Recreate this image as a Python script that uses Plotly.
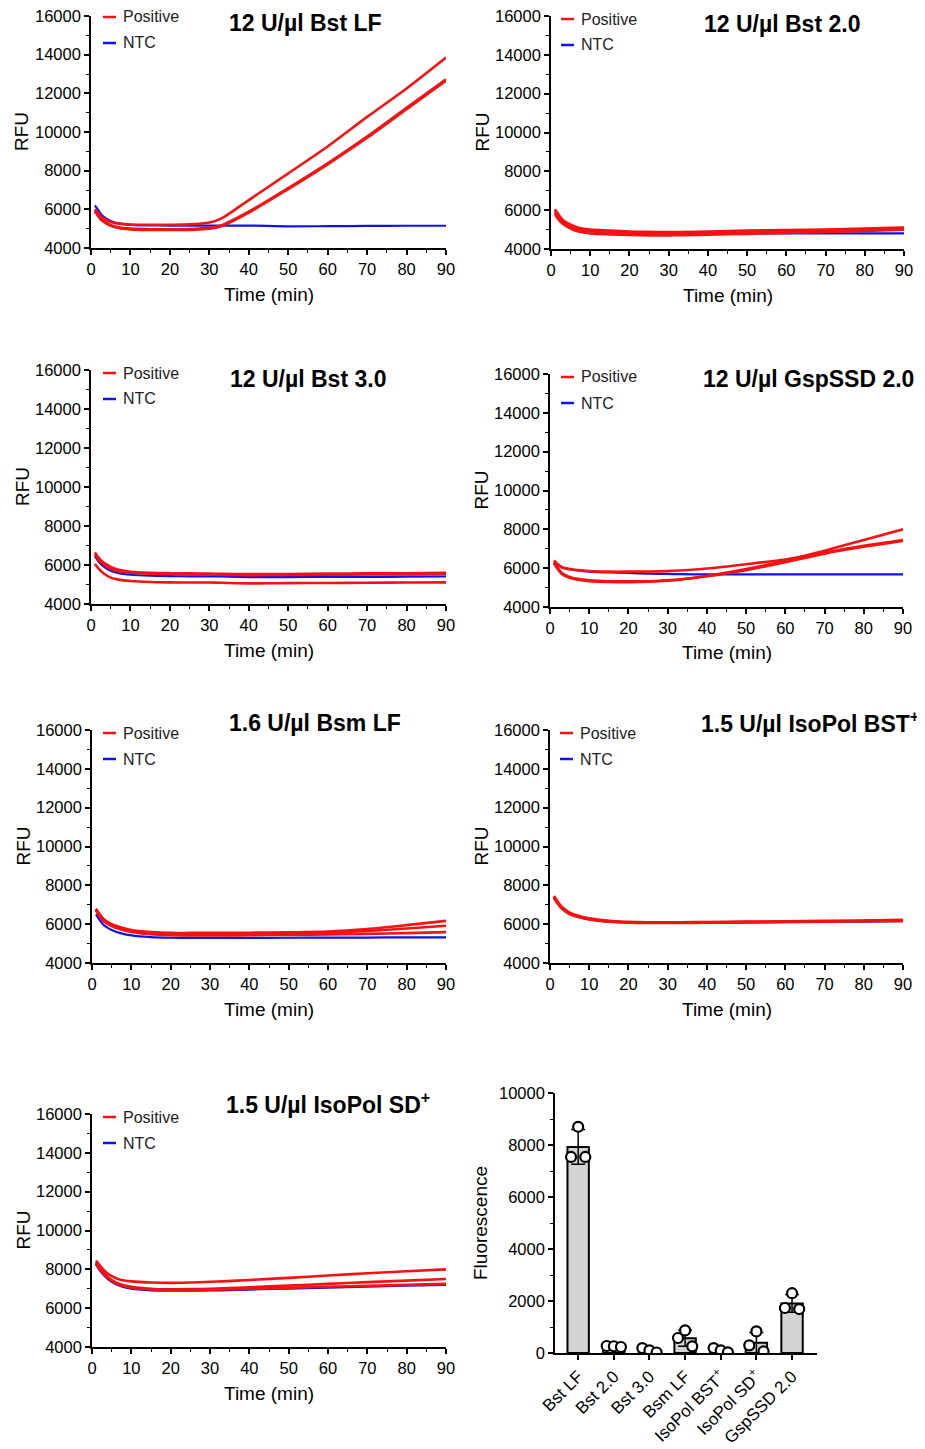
import numpy as np
import plotly.graph_objects as go

# page body has an 8px margin: the figure is sized so it fills the 925x1449 window exactly
OFF = 8
W, H = 925 - OFF, 1449 - OFF

# ---------------- data ----------------
time_min = [1, 2, 3, 5, 7, 10, 15, 20, 25, 30, 33, 40, 50, 60, 70, 80, 90]

titles = ["12 U/µl Bst LF", "12 U/µl Bst 2.0", "12 U/µl Bst 3.0", "12 U/µl GspSSD 2.0",
          "1.6 U/µl Bsm LF", "1.5 U/µl IsoPol BST<sup>+</sup>", "1.5 U/µl IsoPol SD<sup>+</sup>"]

bstlf_pos = [
    [6000, 5750, 5550, 5350, 5260, 5210, 5200, 5200, 5220, 5320, 5520, 6480, 7860, 9250, 10780, 12250, 13850],
    [5950, 5650, 5420, 5180, 5070, 5000, 4970, 4970, 4980, 5040, 5170, 5880, 7100, 8380, 9760, 11250, 12720],
    [5900, 5600, 5380, 5150, 5030, 4960, 4930, 4930, 4940, 5000, 5130, 5830, 7050, 8330, 9700, 11180, 12650],
]
bstlf_ntc = [6200, 5900, 5650, 5400, 5280, 5200, 5170, 5160, 5160, 5160, 5160, 5160, 5120, 5130, 5140, 5150, 5150]

bst20_pos = [
    [6050, 5750, 5500, 5250, 5100, 5000, 4950, 4900, 4880, 4870, 4870, 4900, 4950, 4980, 5000, 5050, 5100],
    [5950, 5650, 5400, 5150, 5000, 4920, 4850, 4820, 4800, 4800, 4810, 4840, 4880, 4930, 4980, 5020, 5050],
    [5800, 5500, 5300, 5050, 4900, 4800, 4750, 4720, 4700, 4700, 4710, 4740, 4780, 4830, 4880, 4930, 5000],
]
bst20_ntc = [5900, 5600, 5350, 5100, 5000, 4920, 4870, 4850, 4830, 4820, 4820, 4810, 4810, 4800, 4800, 4800, 4800]

bst30_pos = [
    [6650, 6350, 6150, 5900, 5750, 5650, 5600, 5580, 5570, 5560, 5550, 5530, 5540, 5560, 5570, 5580, 5600],
    [6550, 6250, 6050, 5800, 5680, 5600, 5550, 5530, 5520, 5510, 5500, 5480, 5490, 5500, 5510, 5520, 5530],
    [6050, 5800, 5600, 5350, 5250, 5180, 5130, 5110, 5100, 5100, 5090, 5060, 5070, 5080, 5090, 5100, 5110],
]
bst30_ntc = [6450, 6150, 5950, 5700, 5580, 5500, 5450, 5430, 5420, 5420, 5410, 5380, 5380, 5390, 5390, 5400, 5410]

gsp_pos = [
    [6400, 6200, 6050, 5950, 5900, 5850, 5820, 5820, 5830, 5850, 5880, 5980, 6200, 6450, 6800, 7150, 7450],
    [6300, 6000, 5750, 5550, 5450, 5380, 5330, 5320, 5330, 5380, 5420, 5600, 5950, 6400, 6900, 7450, 8000],
    [6250, 5950, 5700, 5500, 5400, 5330, 5290, 5280, 5300, 5350, 5400, 5580, 5900, 6300, 6750, 7100, 7400],
]
gsp_ntc = [6300, 6150, 6050, 5950, 5880, 5820, 5780, 5750, 5720, 5700, 5690, 5680, 5680, 5680, 5680, 5680, 5680]

bsm_pos = [
    [6800, 6500, 6250, 6000, 5850, 5700, 5600, 5550, 5550, 5550, 5550, 5560, 5580, 5620, 5750, 5950, 6170],
    [6750, 6450, 6200, 5950, 5800, 5650, 5550, 5500, 5500, 5500, 5500, 5510, 5530, 5560, 5650, 5780, 5920],
    [6700, 6400, 6150, 5900, 5750, 5600, 5480, 5430, 5420, 5420, 5420, 5430, 5450, 5470, 5500, 5540, 5590],
]
bsm_ntc = [6500, 6200, 5950, 5700, 5550, 5420, 5330, 5300, 5290, 5290, 5290, 5290, 5300, 5310, 5310, 5320, 5320]

isobst_pos = [
    [7450, 7150, 6900, 6600, 6450, 6300, 6180, 6120, 6100, 6100, 6100, 6110, 6130, 6150, 6170, 6190, 6220],
    [7400, 7100, 6850, 6550, 6400, 6260, 6150, 6100, 6080, 6080, 6080, 6090, 6110, 6130, 6150, 6170, 6200],
    [7350, 7050, 6800, 6520, 6380, 6240, 6130, 6080, 6060, 6060, 6060, 6070, 6090, 6110, 6130, 6150, 6170],
]
isobst_ntc = [7400, 7100, 6850, 6550, 6400, 6250, 6140, 6090, 6070, 6070, 6070, 6080, 6090, 6110, 6120, 6130, 6150]

isosd_pos = [
    [8450, 8200, 7950, 7650, 7480, 7380, 7320, 7300, 7320, 7360, 7380, 7450, 7560, 7680, 7800, 7900, 8000],
    [8350, 8050, 7800, 7450, 7250, 7100, 7000, 6970, 6980, 7000, 7020, 7080, 7160, 7250, 7340, 7420, 7500],
    [8300, 8000, 7750, 7400, 7200, 7050, 6960, 6930, 6930, 6950, 6960, 7000, 7050, 7100, 7150, 7200, 7250],
]
isosd_ntc = [8250, 7950, 7700, 7350, 7150, 7000, 6920, 6900, 6900, 6910, 6920, 6960, 7010, 7060, 7110, 7160, 7200]

panels_pos = [bstlf_pos, bst20_pos, bst30_pos, gsp_pos, bsm_pos, isobst_pos, isosd_pos]
panels_ntc = [bstlf_ntc, bst20_ntc, bst30_ntc, gsp_ntc, bsm_ntc, isobst_ntc, isosd_ntc]

bar_labels = ["Bst LF", "Bst 2.0", "Bst 3.0", "Bsm LF", "IsoPol BST<sup>+</sup>", "IsoPol SD<sup>+</sup>", "GspSSD 2.0"]
# replicate endpoint fluorescence (left, centre, right point)
bar_points = [
    [7540, 8700, 7540],
    [270, 260, 230],
    [190, 100, 20],
    [577, 870, 256],
    [190, 100, 26],
    [295, 830, 64],
    [1730, 2300, 1690],
]

# ---------------- layout geometry (window pixels) ----------------
boxes = [
    (91, 446, 16, 248),
    (551, 904, 16, 249),
    (91, 446, 370, 604),
    (550, 903, 374, 607),
    (92, 446, 730, 963),
    (550, 903, 730, 963),
    (92, 446, 1114, 1347),
]
title_pos = [(305, 23), (782, 24), (308, 379), (808, 379), (315, 723), (810, 722), (328, 1103)]
legend_pos = [(103, 17), (561, 19), (103, 373), (561, 377), (103, 733), (560, 733), (103, 1117)]
bar_box = (555, 817, 1093, 1353)

FONT = "Arial, Liberation Sans, sans-serif"
RED = "#f51212"
BLUE = "#1212f0"

def px(x):
    return (x - OFF) / W

def py(y):
    return 1 - (y - OFF) / H

fig = go.Figure()
layout = {}
annotations = []
shapes = []

axis_common = dict(showline=True, linecolor="black", linewidth=1.6, ticks="outside",
                   ticklen=5, tickwidth=1.5, tickcolor="black", showgrid=False, zeroline=False,
                   automargin=False, ticklabeloverflow="allow")
tick_font = dict(family=FONT, size=16.5, color="black")

for i, (box, pos, ntc) in enumerate(zip(boxes, panels_pos, panels_ntc)):
    n = i + 1
    xn = "x" if n == 1 else f"x{n}"
    yn = "y" if n == 1 else f"y{n}"
    x0, x1, y0, y1 = box
    layout["xaxis" if n == 1 else f"xaxis{n}"] = dict(
        domain=[px(x0), px(x1)], anchor=yn, range=[0, 90], dtick=10, tick0=0, tickfont=tick_font,
        minor=dict(dtick=5, ticks="outside", ticklen=3, tickwidth=1.2, tickcolor="black", showgrid=False),
        **axis_common)
    layout["yaxis" if n == 1 else f"yaxis{n}"] = dict(
        domain=[py(y1), py(y0)], anchor=xn, range=[4000, 16000], dtick=2000, tick0=4000,
        tickformat="d", tickfont=tick_font,
        minor=dict(dtick=1000, ticks="outside", ticklen=3, tickwidth=1.2, tickcolor="black", showgrid=False),
        **axis_common)
    fig.add_trace(go.Scatter(x=time_min, y=ntc, mode="lines", xaxis=xn, yaxis=yn,
                             line=dict(color=BLUE, width=2.2, shape="spline", smoothing=0.8),
                             showlegend=False))
    for rep in pos:
        fig.add_trace(go.Scatter(x=time_min, y=rep, mode="lines", xaxis=xn, yaxis=yn,
                                 line=dict(color=RED, width=2.6, shape="spline", smoothing=0.8),
                                 showlegend=False))
    # title
    tx, ty = title_pos[i]
    annotations.append(dict(x=px(tx), y=py(ty), xref="paper", yref="paper", showarrow=False,
                            text=f"<b>{titles[i]}</b>", xanchor="center", yanchor="middle",
                            font=dict(family=FONT, size=23, color="black")))
    # axis titles
    annotations.append(dict(x=px((x0 + x1) / 2), y=py(y1 + 46), xref="paper", yref="paper",
                            showarrow=False, text="Time (min)", xanchor="center", yanchor="middle",
                            font=dict(family=FONT, size=19, color="black")))
    annotations.append(dict(x=px(x0 - 69), y=py((y0 + y1) / 2), xref="paper", yref="paper",
                            showarrow=False, text="RFU", textangle=-90, xanchor="center", yanchor="middle",
                            font=dict(family=FONT, size=19, color="black")))
    # legend
    lx, ly = legend_pos[i]
    for k, (lab, col) in enumerate([("Positive", RED), ("NTC", BLUE)]):
        yy = ly + 26 * k
        shapes.append(dict(type="line", xref="paper", yref="paper", x0=px(lx), x1=px(lx + 13),
                           y0=py(yy), y1=py(yy), line=dict(color=col, width=2.5)))
        annotations.append(dict(x=px(lx + 18), y=py(yy), xref="paper", yref="paper", showarrow=False,
                                text=lab, xanchor="left", yanchor="middle",
                                font=dict(family=FONT, size=16, color="#222")))

# ---------------- bar chart ----------------
bx0, bx1, by0, by1 = bar_box
pts = np.array(bar_points, dtype=float)
means = pts.mean(axis=1)
sds = pts.std(axis=1, ddof=1)
idx = list(range(len(bar_labels)))
jitter = [-0.2, 0.0, 0.2]

layout["xaxis8"] = dict(domain=[px(bx0), px(bx1)], anchor="y8", range=[-0.65, 6.7],
                        tickvals=idx, ticktext=bar_labels, tickangle=-45,
                        tickfont=dict(family=FONT, size=17, color="black"), **axis_common)
layout["yaxis8"] = dict(domain=[py(by1), py(by0)], anchor="x8", range=[0, 10000], dtick=2000,
                        tickformat="d", tickfont=tick_font,
                        minor=dict(dtick=1000, ticks="outside", ticklen=3, tickwidth=1.2,
                                   tickcolor="black", showgrid=False),
                        **axis_common)

fig.add_trace(go.Bar(x=idx, y=means, xaxis="x8", yaxis="y8", width=0.6,
                     marker=dict(color="#d3d3d3", line=dict(color="black", width=2)),
                     error_y=dict(type="data", array=sds, color="black", thickness=1.5, width=7),
                     showlegend=False))
for j, off in enumerate(jitter):
    fig.add_trace(go.Scatter(x=[k + off for k in idx], y=pts[:, j], xaxis="x8", yaxis="y8",
                             mode="markers",
                             marker=dict(symbol="circle", size=10, color="white",
                                         line=dict(color="black", width=2.2)),
                             showlegend=False))

annotations.append(dict(x=px(bx0 - 75), y=py((by0 + by1) / 2), xref="paper", yref="paper",
                        showarrow=False, text="Fluorescence", textangle=-90, xanchor="center",
                        yanchor="middle", font=dict(family=FONT, size=19, color="black")))

fig.update_layout(width=W, height=H, margin=dict(l=0, r=0, t=0, b=0, autoexpand=False),
                  paper_bgcolor="white", plot_bgcolor="white",
                  annotations=annotations, shapes=shapes, **layout)

fig.write_html("out.html")
